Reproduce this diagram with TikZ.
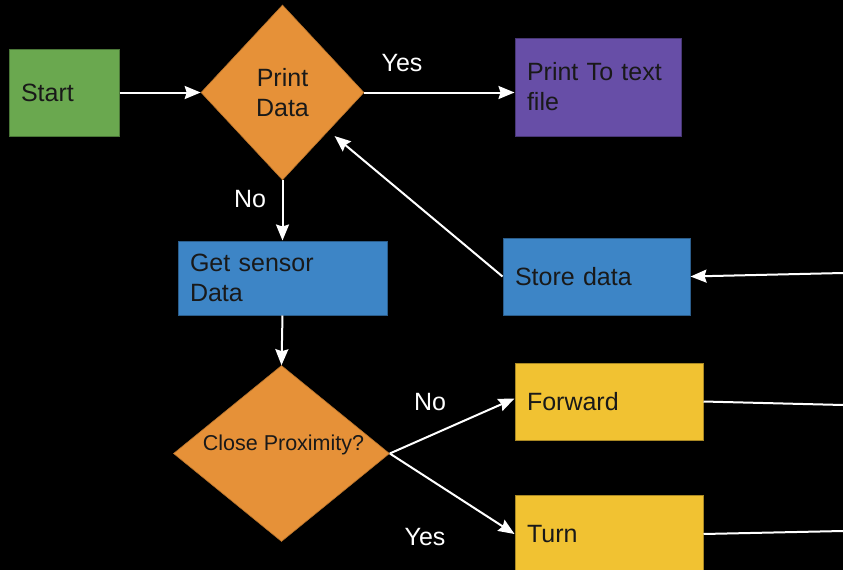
\documentclass[tikz,border=0pt]{standalone}
\usepackage{fontspec}
\setmainfont{Liberation Sans}
\usetikzlibrary{shapes.geometric,arrows.meta}
\definecolor{cgreen}{HTML}{6AA84F}
\definecolor{corange}{HTML}{E69138}
\definecolor{cpurple}{HTML}{674EA7}
\definecolor{cblue}{HTML}{3D85C6}
\definecolor{cyellow}{HTML}{F1C232}
\begin{document}
\begin{tikzpicture}[x=1pt,y=-1pt,
  box/.style={rectangle, inner xsep=12pt, inner ysep=0pt, align=left,
    font=\fontsize{25}{30}\selectfont, text=black!90, line width=1pt},
  dia/.style={diamond, inner sep=0pt, fill=corange, draw=corange!80!black, line width=0.6pt,
    font=\fontsize{25}{30}\selectfont, text=black!90, align=center},
  lbl/.style={text=white, font=\fontsize{25}{30}\selectfont, inner sep=0pt},
  conn/.style={draw=white, line width=2pt, -{Stealth[length=16pt,width=13pt,inset=2pt]}},
  plain/.style={draw=white, line width=2pt}]
\useasboundingbox (0,0) rectangle (843,570);
\fill[black] (0,0) rectangle (843,570);
\begin{scope}
\clip (0,0) rectangle (843,570);
\node[box, fill=cgreen, draw=cgreen!70!black, text width=86pt, minimum height=87pt] (start) at (64,92.5) {Start};
\node[dia, minimum width=163pt, minimum height=175pt] (pd) at (282.5,92.5) {Print\\Data};
\node[box, fill=cpurple, draw=cpurple!70!black, text width=142pt, minimum height=98pt] (ptf) at (598,87) {Print To text\\file};
\node[box, fill=cblue, draw=cblue!70!black, text width=163pt, minimum height=77pt] (store) at (596.5,276.5) {Store data};
\node[box, fill=cblue, draw=cblue!70!black, text width=185pt, minimum height=74pt] (gsd) at (282.5,278) {Get sensor\\Data};
\node[dia, minimum width=216pt, minimum height=176pt] (cp) at (281.5,453.5) {};
\node[text=black!90, font=\fontsize{21.5}{26}\selectfont, inner sep=0pt] (cpt) at (283.5,445) {Close Proximity?};
\node[box, fill=cyellow, draw=cyellow!70!black, text width=164pt, minimum height=77pt] (fwd) at (609,401.5) {Forward};
\node[box, fill=cyellow, draw=cyellow!70!black, text width=164pt, minimum height=78pt] (turn) at (609,534) {Turn};
\coordinate (edgeA) at (843,273);
\coordinate (edgeB) at (843,405);
\coordinate (edgeC) at (843,531);
\draw[conn] (start.east) -- (pd.west);
\draw[conn] (pd.east) -- (pd.east -| ptf.west);
\draw[conn] (pd.south) -- (gsd.north);
\draw[conn] (gsd.south) -- (cp.north);
\draw[conn, shorten >=8pt] (store.west) -- (pd);
\draw[conn] (edgeA) -- (store.east);
\draw[plain] (fwd.east) -- (edgeB);
\draw[plain] (turn.east) -- (edgeC);
\draw[conn] (cp.east) -- ([yshift=3pt]fwd.west);
\draw[conn] (cp.east) -- (turn.west);
\node[lbl] (yes1) at (402,63) {Yes};
\node[lbl] (no1) at (250,199) {No};
\node[lbl] (no2) at (430,402) {No};
\node[lbl] (yes2) at (425,537) {Yes};
\end{scope}
\end{tikzpicture}
\end{document}
